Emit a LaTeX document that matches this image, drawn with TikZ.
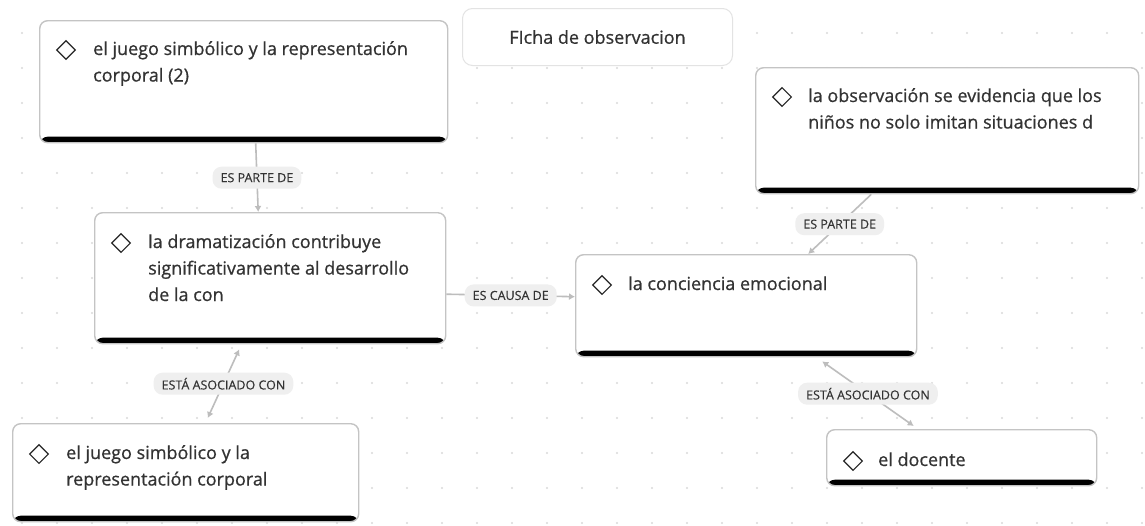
\documentclass[tikz,border=0pt]{standalone}
\usepackage{fontspec}
\setmainfont{Open Sans}
\newfontfamily\medfont[FakeBold=0.7]{Open Sans}
\newfontfamily\labfont[FakeBold=0.3]{Open Sans}
\usetikzlibrary{shapes.geometric,arrows.meta,calc}
\definecolor{bordergray}{HTML}{C4C4C4}
\definecolor{titleborder}{HTML}{E3E3E3}
\definecolor{textgray}{HTML}{333333}
\definecolor{labelgray}{HTML}{EFEFEF}
\definecolor{arrowgray}{HTML}{BDBDBD}
\definecolor{dotgray}{HTML}{D9D9D9}
\newcommand{\lines}[1]{\begin{tabular}[t]{@{}l@{}}#1\end{tabular}}
\tikzset{
  card/.style={draw=bordergray, line width=1.4pt, fill=white, rounded corners=8pt,
    anchor=north west, inner sep=0pt,
    path picture={\fill[black] ([yshift=6pt]path picture bounding box.south west) rectangle (path picture bounding box.south east);}},
  txt/.style={anchor=base west, inner sep=0pt, font=\medfont\fontsize{18}{26.5}\selectfont, text=textgray},
  dia/.style={diamond, draw=black!85, line width=1.1pt, minimum width=19pt, minimum height=19pt, inner sep=0pt},
  lab/.style={fill=labelgray, rounded corners=9pt, font=\labfont\fontsize{12.5}{14}\selectfont, text=textgray,
    inner xsep=8pt, inner ysep=0pt, minimum height=22pt},
  conn/.style={draw=arrowgray, line width=1.6pt, -{Latex[length=6pt,width=7pt]}},
  conn2/.style={draw=arrowgray, line width=1.6pt, {Latex[length=6pt,width=7pt]}-{Latex[length=6pt,width=7pt]}}
}
\begin{document}
\begin{tikzpicture}[x=1pt,y=-1pt]
\useasboundingbox (0,0) rectangle (1145,525);
\fill[white] (0,0) rectangle (1145,525);
\foreach \i in {0,...,32}{
  \foreach \j in {0,...,14}{
    \fill[dotgray] (22+35*\i,33+35*\j) circle (1.2pt);
  }
}
% title
\node[draw=titleborder, fill=white, rounded corners=10pt, line width=1pt, minimum width=270pt, minimum height=57pt,
  anchor=north west, font=\medfont\fontsize{18}{20}\selectfont, text=textgray] (title) at (462,8) {FIcha de observacion};
% cards
\node[card, minimum width=408pt, minimum height=122pt] (A) at (39,20) {};
\node[card, minimum width=383pt, minimum height=126pt] (B) at (755,67) {};
\node[card, minimum width=351pt, minimum height=131pt] (C) at (94,212) {};
\node[card, minimum width=341pt, minimum height=102pt] (D) at (575,254) {};
\node[card, minimum width=346pt, minimum height=98pt] (E) at (12,423) {};
\node[card, minimum width=270pt, minimum height=56pt] (F) at (826,429) {};
% texts
\node[txt] (tA) at ($(A.north west)+(54,35)$) {\lines{el juego simbólico y la representación\\corporal (2)}};
\node[dia] (dA) at ($(A.north west)+(27,30)$) {};
\node[txt] (tB) at ($(B.north west)+(53,35)$) {\lines{la observación se evidencia que los\\niños no solo imitan situaciones d}};
\node[dia] (dB) at ($(B.north west)+(27,30)$) {};
\node[txt] (tC) at ($(C.north west)+(54,36)$) {\lines{la dramatización contribuye\\significativamente al desarrollo\\de la con}};
\node[dia] (dC) at ($(C.north west)+(27,31)$) {};
\node[txt] (tD) at ($(D.north west)+(53,36)$) {la conciencia emocional};
\node[dia] (dD) at ($(D.north west)+(27,31)$) {};
\node[txt] (tE) at ($(E.north west)+(54,36)$) {\lines{el juego simbólico y la\\representación corporal}};
\node[dia] (dE) at ($(E.north west)+(27,31)$) {};
\node[txt] (tF) at ($(F.north west)+(52,37)$) {el docente};
\node[dia] (dF) at ($(F.north west)+(27,32)$) {};
% connectors
\draw[conn] ([xshift=12pt]A.south) -- node[lab] {ES PARTE DE} ([xshift=-12pt]C.north);
\draw[conn] ([yshift=-16pt]C.east) -- node[lab] {ES CAUSA DE} ([yshift=9pt]D.west);
\draw[conn] ([xshift=-76pt]B.south) -- node[lab] {ES PARTE DE} ([xshift=62pt]D.north);
\draw[conn2] ([xshift=-31pt,yshift=-5pt]C.south) -- node[lab] {ESTÁ ASOCIADO CON} ([xshift=22pt,yshift=5pt]E.north);
\draw[conn2] ([xshift=76pt,yshift=-4pt]D.south) -- node[lab] {ESTÁ ASOCIADO CON} ([xshift=-48pt,yshift=3pt]F.north);
\end{tikzpicture}
\end{document}
